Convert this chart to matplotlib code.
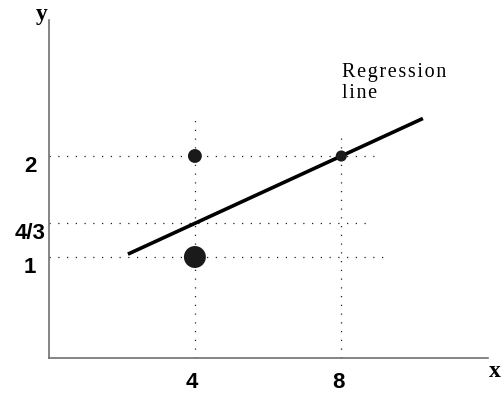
""" weighted regression line sketch """
import numpy as np
import matplotlib.pyplot as plt

# data points and their weights
x_pts = [4, 4, 8]
y_pts = [2, 1, 2]
weights = [1, 2, 1]

x_ticks = [4, 8]
x_tick_labels = ['4', '8']
y_ticks = [2, 4/3, 1]
y_tick_labels = ['2', '4/3', '1']
note = 'Regression\nline'


def spaced(s):
    """ add hair spaces between letters """
    return '\n'.join('\u200a'.join(part) for part in s.split('\n'))


def main():
    """ main function """
    fig = plt.figure(figsize=(5.01, 3.93), dpi=100)
    ax = fig.add_axes([48.5/501, 35/393, 439.2/501, 338.35/393])
    ax.set_xlim(0, 12)
    ax.set_ylim(0, 3.35)

    for side in ('top', 'right'):
        ax.spines[side].set_visible(False)
    for side in ('left', 'bottom'):
        ax.spines[side].set_color('#707070')
        ax.spines[side].set_linewidth(1.2)
    ax.set_xticks([])
    ax.set_yticks([])

    dot = dict(color='#222222', lw=0.9, linestyle=(0, (1, 6)))
    # guide lines (how far each one reaches)
    h_ends = [9.06, 8.84, 9.28]
    for yv, xe in zip(y_ticks, h_ends):
        ax.plot([0, xe], [yv, yv], **dot)
    v_ends = [2.36, 2.23]
    for xv, ye in zip(x_ticks, v_ends):
        ax.plot([xv, xv], [0, ye], **dot)

    # weighted least squares fit
    slope, icpt = np.polyfit(x_pts, y_pts, 1, w=np.sqrt(weights))
    xl = np.array([2.17, 10.23])
    ax.plot(xl, slope*xl + icpt, color='black', lw=2.6, solid_capstyle='butt')

    sizes = [100, 250, 64]
    ax.scatter(x_pts, y_pts, s=sizes, color='#1a1a1a', zorder=3, linewidths=0)

    ax.text(8.02, 2.92, spaced(note), ha='left', va='top',
            family=['Liberation Serif', 'DejaVu Serif'], fontsize=14.5,
            linespacing=1.15)

    lab = dict(family='Liberation Sans', fontweight='bold', fontsize=16,
               ha='center', va='center')
    for yv, t in zip(y_ticks, y_tick_labels):
        ax.annotate(t, (0, yv), xytext=(-13.3, -7.3), textcoords='offset points', **lab)
    for xv, t in zip(x_ticks, x_tick_labels):
        ax.annotate(t, (xv, 0), xytext=(-2, -17.6), textcoords='offset points', **lab)

    ax.text(-0.0148, 1.014, 'y', transform=ax.transAxes, ha='center', va='center',
            family='Liberation Serif', fontweight='bold', fontsize=17, clip_on=False)
    ax.text(1.016, -0.041, 'x', transform=ax.transAxes, ha='center', va='center',
            family='Liberation Serif', fontweight='bold', fontsize=17, clip_on=False)

    fig.savefig('out.png', dpi=100)


main()
